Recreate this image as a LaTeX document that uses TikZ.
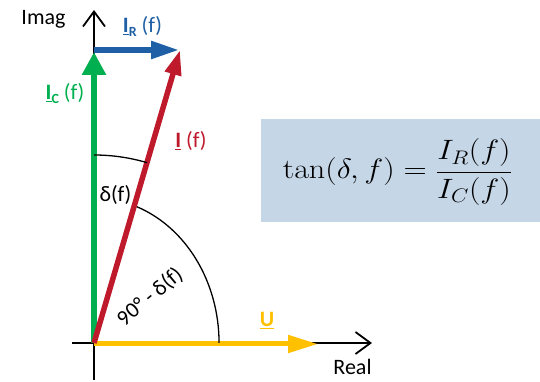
\RequirePackage{fix-cm}
\documentclass[tikz,border=0pt]{standalone}
\usepackage[no-math]{fontspec}
\setmainfont{Carlito}
\usetikzlibrary{arrows.meta}
\definecolor{cgreen}{HTML}{00B050}
\definecolor{cblue}{HTML}{1F5FA6}
\definecolor{cred}{HTML}{BE1A2C}
\definecolor{cyellow}{HTML}{FFC000}
\definecolor{cbox}{HTML}{C5D6E7}
\begin{document}
\begin{tikzpicture}[x=1pt,y=1pt,
  lbl/.style={font=\fontsize{22}{26}\selectfont, inner sep=0pt, anchor=base},
  axisline/.style={line width=1.8pt, -{Straight Barb[length=15pt,width=22pt]}},
  arcline/.style={line width=1.3pt, black}]
\useasboundingbox (0,0) rectangle (540,382);
% key points
\coordinate (O) at (94,39);
\coordinate (vbot) at (94,2);
\coordinate (vtop) at (94,372);
\coordinate (hleft) at (72,39);
\coordinate (hright) at (372,39);
\coordinate (Ctip) at (94,330);
\coordinate (Rstart) at (94,332);
\coordinate (Rtip) at (179,332);
\coordinate (Itip) at (180,332);
\coordinate (Ustart) at (94,38);
\coordinate (Utip) at (318,38);
\coordinate (d1) at (94,227);
\coordinate (d2) at (137,175.2);
% formula box
\node[fill=cbox, minimum width=279pt, minimum height=103pt, inner sep=0pt] (box) at (400.5,211.5) {};
\node[inner sep=0pt] (formula) at (397.5,210)
  {\fontsize{28}{33}\selectfont\scalebox{1.15}[1]{$\displaystyle \tan(\delta, f) = \frac{I_R(f)}{I_C(f)}$}};
% axes
\draw[axisline] (vbot) -- (vtop);
\draw[axisline] (hleft) -- (hright);
% phasors
\draw[cyellow, line width=5pt, -{Triangle[length=30pt,width=17pt]}] (Ustart) -- (Utip);
\draw[cgreen, line width=6.5pt, -{Triangle[length=23pt,width=23pt]}] (O) -- (Ctip);
\draw[cred, line width=5.5pt, -{Triangle[length=25pt,width=16pt]}] (O) -- (Itip);
\draw[cblue, line width=5.5pt, -{Triangle[length=28pt,width=17pt]}] (Rstart) -- (Rtip);
% angle arcs
\draw[arcline] (d1) arc[start angle=90, end angle=73.64, radius=188];
\draw[arcline] (d2) arc[start angle=69.9, end angle=0, x radius=125, y radius=145];
% labels
\node[lbl] (imag) at (43.5,357) {Imag};
\node[lbl] (real) at (352.5,7) {Real};
\node[lbl, text=cblue] (lIR) at (142.5,349) {\textbf{\underline{I}}\raisebox{-0.3ex}{\fontsize{14}{14}\selectfont\textbf{R}} (f)};
\node[lbl, text=cgreen] (lIC) at (65,282) {\textbf{\underline{I}}\raisebox{-0.3ex}{\fontsize{14}{14}\selectfont\textbf{C}} (f)};
\node[lbl, text=cred] (lI) at (191,234) {\textbf{\underline{I}} (f)};
\node[lbl] (ldelta) at (115.5,180) {δ(f)};
\node[lbl, text=cyellow] (lU) at (267,55) {\textbf{\underline{U}}};
\node[lbl, anchor=center, rotate=40] (lcomp) at (150,85) {90° - δ(f)};
\end{tikzpicture}
\end{document}
